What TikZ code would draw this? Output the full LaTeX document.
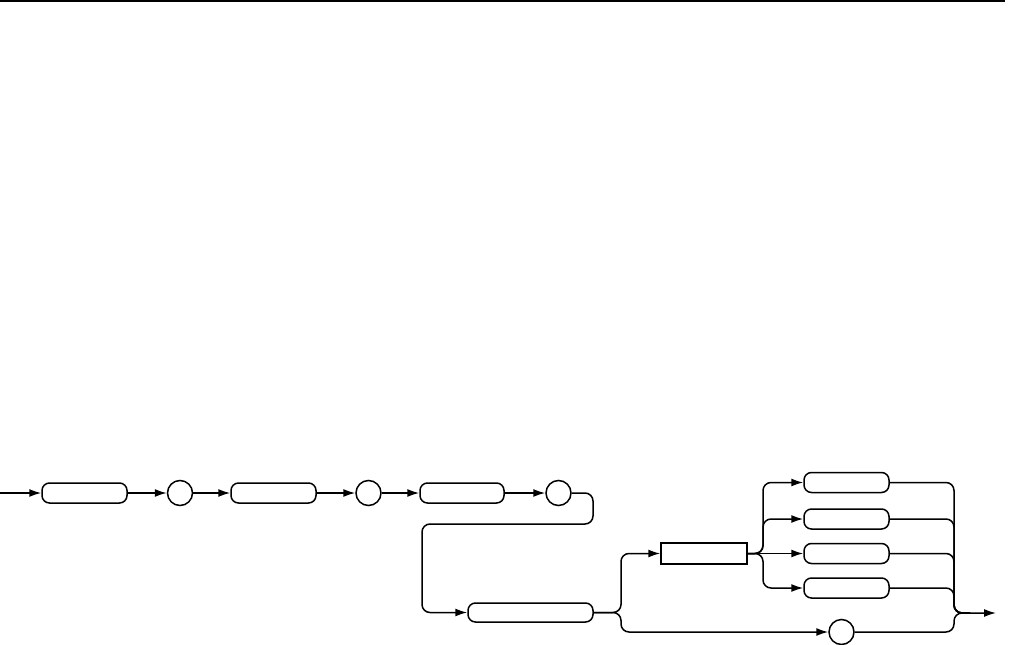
\documentclass[tikz,border=0pt]{standalone}
\usetikzlibrary{arrows.meta}
\begin{document}
\begin{tikzpicture}[x=1pt,y=-1pt,
  line width=1.5pt,
  pill/.style={draw,rounded corners=7.5pt,minimum width=85pt,minimum height=20pt,inner sep=0pt,line width=1.5pt},
  rectbox/.style={draw,minimum width=86pt,minimum height=21pt,inner sep=0pt,line width=1.5pt},
  dot/.style={draw,circle,minimum size=25pt,inner sep=0pt,line width=1.5pt},
  conn/.style={line width=1.5pt,rounded corners=8pt},
  arr/.style={conn,-{Latex[length=12pt,width=8pt]}}]
\useasboundingbox (0,0) rectangle (1009,645);
\draw[line width=1.8pt] (0,1) -- (1005,1);
% nodes
\node[pill] (b1) at (84.5,493) {};
\node[dot] (c1) at (180,493) {};
\node[pill] (b2) at (273.5,493) {};
\node[dot] (c2) at (368.5,493) {};
\node[pill,minimum width=84pt] (b3) at (462,493) {};
\node[dot] (c3) at (558.5,493) {};
\node[pill,minimum width=125pt,minimum height=19pt] (b4) at (530.5,612.5) {};
\node[rectbox] (r5) at (704,553.5) {};
\node[pill] (o1) at (846.5,482.5) {};
\node[pill] (o2) at (846.5,519) {};
\node[pill] (o3) at (846.5,553.5) {};
\node[pill] (o4) at (846.5,588) {};
\node[dot] (c4) at (841.5,632) {};
\coordinate (in) at (0,493);
\coordinate (out) at (996,613);
% connectors
\draw[arr] (in) -- (b1.west);
\draw[arr] (b1.east) -- (c1.west);
\draw[arr] (c1.east) -- (b2.west);
\draw[arr] (b2.east) -- (c2.west);
\draw[arr] (c2.east) -- (b3.west);
\draw[arr] (b3.east) -- (c3.west);
\draw[arr] (c3.east) -- (593,493) -- (593,524) -- (422,524) -- (422,612.5) -- (b4.west);
\draw[arr] (b4.east) -- (621,612.5) -- (621,553.5) -- (r5.west);
\draw[arr] (b4.east) -- (621,612.5) -- (621,632) -- (c4.west);
\draw[arr] (r5.east) -- (763,553.5) -- (763,482.5) -- (o1.west);
\draw[arr] (r5.east) -- (763,553.5) -- (763,519) -- (o2.west);
\draw[arr] (r5.east) -- (o3.west);
\draw[arr] (r5.east) -- (763,553.5) -- (763,588) -- (o4.west);
\draw[conn] (o1.east) -- (954,482.5) -- (954,613) -- (970,613);
\draw[conn] (o2.east) -- (954,519) -- (954,613) -- (970,613);
\draw[conn] (o3.east) -- (954,553.5) -- (954,613) -- (970,613);
\draw[conn] (o4.east) -- (954,588) -- (954,613) -- (970,613);
\draw[arr] (c4.east) -- (954,632) -- (954,613) -- (out);
\end{tikzpicture}
\end{document}
